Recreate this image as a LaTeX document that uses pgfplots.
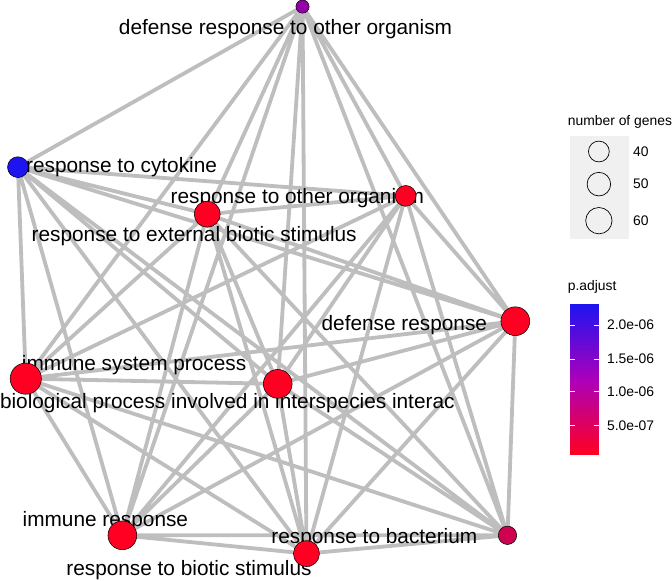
\documentclass[border=0pt]{standalone}
\usepackage{pgfplots}
\pgfplotsset{compat=1.18}
\usepackage{fontspec}
\setmainfont{Liberation Sans}
\definecolor{edge}{RGB}{190,190,190}
\definecolor{nred}{RGB}{255,0,34}
\definecolor{npur}{RGB}{150,0,170}
\definecolor{nblue}{RGB}{30,20,240}
\definecolor{nmag}{RGB}{210,0,80}
\begin{document}
\begin{tikzpicture}
\begin{axis}[scale only axis, width=7in, height=5in, xmin=0, xmax=672, ymin=-480, ymax=0,
  hide axis, clip=false, unbounded coords=jump]
\addplot[edge, line width=2.2pt] coordinates {
(302,-27)(84,-150) (nan,nan) (302,-27)(381,-172) (nan,nan) (302,-27)(229,-186) (nan,nan)
(302,-27)(465,-268) (nan,nan) (302,-27)(90,-312) (nan,nan) (302,-27)(283,-316) (nan,nan)
(302,-27)(164,-432) (nan,nan) (302,-27)(459,-432) (nan,nan) (302,-27)(305,-446) (nan,nan)
(84,-150)(381,-172) (nan,nan) (84,-150)(229,-186) (nan,nan) (84,-150)(465,-268) (nan,nan)
(84,-150)(90,-312) (nan,nan) (84,-150)(283,-316) (nan,nan) (84,-150)(164,-432) (nan,nan)
(84,-150)(459,-432) (nan,nan) (84,-150)(305,-446) (nan,nan)
(381,-172)(229,-186) (nan,nan) (381,-172)(465,-268) (nan,nan) (381,-172)(90,-312) (nan,nan)
(381,-172)(283,-316) (nan,nan) (381,-172)(164,-432) (nan,nan) (381,-172)(459,-432) (nan,nan)
(381,-172)(305,-446) (nan,nan)
(229,-186)(465,-268) (nan,nan) (229,-186)(90,-312) (nan,nan) (229,-186)(283,-316) (nan,nan)
(229,-186)(164,-432) (nan,nan) (229,-186)(459,-432) (nan,nan) (229,-186)(305,-446) (nan,nan)
(465,-268)(90,-312) (nan,nan) (465,-268)(283,-316) (nan,nan) (465,-268)(164,-432) (nan,nan)
(465,-268)(459,-432) (nan,nan) (465,-268)(305,-446) (nan,nan)
(90,-312)(283,-316) (nan,nan) (90,-312)(164,-432) (nan,nan) (90,-312)(459,-432) (nan,nan)
(90,-312)(305,-446) (nan,nan)
(283,-316)(164,-432) (nan,nan) (283,-316)(459,-432) (nan,nan) (283,-316)(305,-446) (nan,nan)
(164,-432)(459,-432) (nan,nan) (164,-432)(305,-446) (nan,nan)
(459,-432)(305,-446)
};
\addplot[only marks, mark=*, mark size=3.8pt, mark options={fill=npur, draw=black, line width=0.3pt}] coordinates {(302,-27)};
\addplot[only marks, mark=*, mark size=6pt, mark options={fill=nblue, draw=black, line width=0.3pt}] coordinates {(84,-150)};
\addplot[only marks, mark=*, mark size=6pt, mark options={fill=nred, draw=black, line width=0.3pt}] coordinates {(381,-172)};
\addplot[only marks, mark=*, mark size=7.5pt, mark options={fill=nred, draw=black, line width=0.3pt}] coordinates {(229,-186)};
\addplot[only marks, mark=*, mark size=8.3pt, mark options={fill=nred, draw=black, line width=0.3pt}] coordinates {(465,-268)};
\addplot[only marks, mark=*, mark size=9pt, mark options={fill=nred, draw=black, line width=0.3pt}] coordinates {(90,-312)};
\addplot[only marks, mark=*, mark size=8.3pt, mark options={fill=nred, draw=black, line width=0.3pt}] coordinates {(283,-316)};
\addplot[only marks, mark=*, mark size=8.3pt, mark options={fill=nred, draw=black, line width=0.3pt}] coordinates {(164,-432)};
\addplot[only marks, mark=*, mark size=5.3pt, mark options={fill=nmag, draw=black, line width=0.3pt}] coordinates {(459,-432)};
\addplot[only marks, mark=*, mark size=7.5pt, mark options={fill=nred, draw=black, line width=0.3pt}] coordinates {(305,-446)};
% labels
\begin{scope}[every node/.style={font=\fontsize{12}{14}\selectfont, inner sep=0pt}]
\node at (axis cs:289,-44) {defense response to other organism};
\node[anchor=west] at (axis cs:90,-150) {response to cytokine};
\node at (axis cs:298,-174) {response to other organism};
\node at (axis cs:219,-203) {response to external biotic stimulus};
\node at (axis cs:380,-271) {defense response};
\node at (axis cs:173,-302) {immune system process};
\node[anchor=west] at (axis cs:70,-331) {biological process involved in interspecies interac};
\node at (axis cs:151,-421) {immune response};
\node at (axis cs:357,-434) {response to bacterium};
\node at (axis cs:215,-459) {response to biotic stimulus};
\end{scope}
% size legend
\fill[gray!12] (axis cs:507,-126) rectangle (axis cs:552,-205);
\node[anchor=west, font=\fontsize{8}{9}\selectfont, inner sep=0pt] at (axis cs:505,-115) {number of genes};
\draw[black, line width=0.4pt] (axis cs:529,-138) circle (6pt);
\draw[black, line width=0.4pt] (axis cs:529,-163) circle (6.8pt);
\draw[black, line width=0.4pt] (axis cs:529,-191) circle (7.6pt);
\begin{scope}[every node/.style={anchor=west, font=\fontsize{8}{9}\selectfont, inner sep=0pt}]
\node at (axis cs:555,-138) {40};
\node at (axis cs:555,-163) {50};
\node at (axis cs:555,-191) {60};
\end{scope}
% colour bar
\node[anchor=west, font=\fontsize{8}{9}\selectfont, inner sep=0pt] at (axis cs:505,-242) {p.adjust};
\shade[bottom color=nred, top color=nblue, middle color=npur!80!magenta] (axis cs:507,-370) rectangle (axis cs:529,-255);
\begin{scope}[every node/.style={anchor=west, font=\fontsize{8}{9}\selectfont, inner sep=0pt}]
\node at (axis cs:535,-271) {2.0e-06};
\node at (axis cs:535,-297) {1.5e-06};
\node at (axis cs:535,-322) {1.0e-06};
\node at (axis cs:535,-348) {5.0e-07};
\end{scope}
\draw[white, line width=0.5pt] (axis cs:507,-271) -- (axis cs:511,-271) (axis cs:525,-271) -- (axis cs:529,-271);
\draw[white, line width=0.5pt] (axis cs:507,-297) -- (axis cs:511,-297) (axis cs:525,-297) -- (axis cs:529,-297);
\draw[white, line width=0.5pt] (axis cs:507,-322) -- (axis cs:511,-322) (axis cs:525,-322) -- (axis cs:529,-322);
\draw[white, line width=0.5pt] (axis cs:507,-348) -- (axis cs:511,-348) (axis cs:525,-348) -- (axis cs:529,-348);
\end{axis}
\end{tikzpicture}
\end{document}
